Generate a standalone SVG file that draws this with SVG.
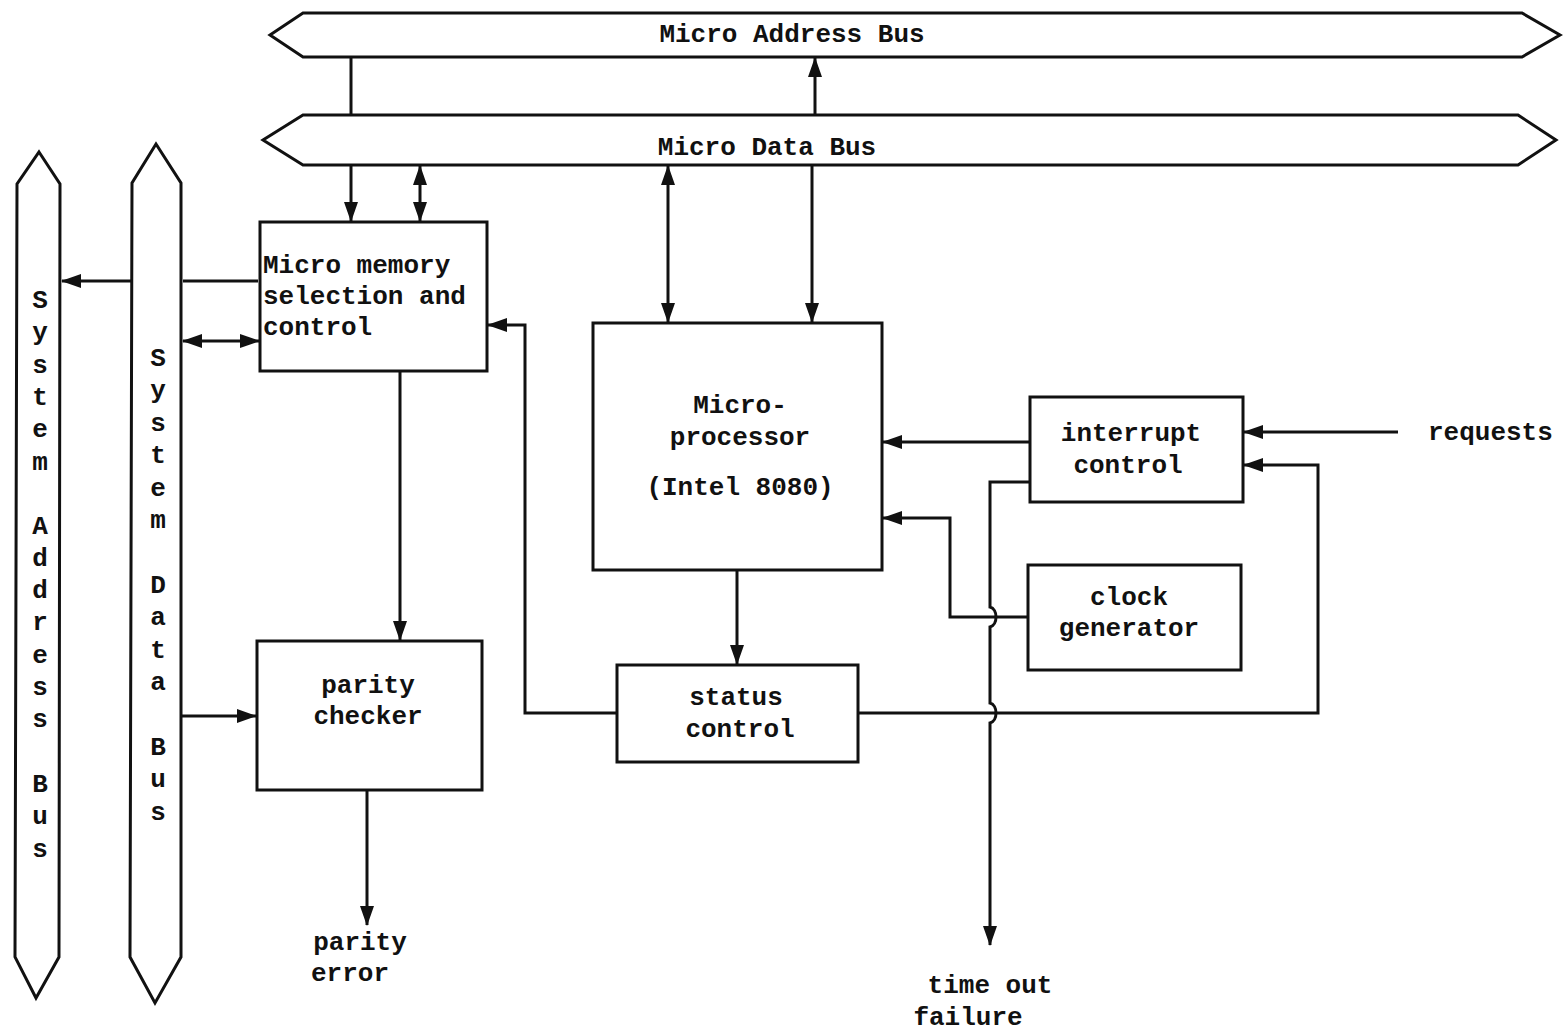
<svg xmlns="http://www.w3.org/2000/svg" width="1566" height="1031" viewBox="0 0 1566 1031">
  <defs>
    <marker id="arrow" markerUnits="userSpaceOnUse" markerWidth="20" markerHeight="14" refX="19" refY="7" orient="auto-start-reverse">
      <path d="M0,0 L20,7 L0,14 Z" fill="#111"/>
    </marker>
    <style>
      .bus { fill: #fff; stroke: #111; stroke-width: 3; stroke-linejoin: miter; }
      .box { fill: #fff; stroke: #111; stroke-width: 3; }
      .wire { fill: none; stroke: #111; stroke-width: 3; }
      .arr { marker-end: url(#arrow); }
      .arr2 { marker-start: url(#arrow); marker-end: url(#arrow); }
      text { font-family: "Liberation Mono", "DejaVu Sans Mono", monospace; font-size: 26px; font-weight: bold; fill: #111; }
      .c { text-anchor: middle; }
    </style>
  </defs>
  <rect width="1566" height="1031" fill="#fff"/>

  <!-- buses -->
  <g id="micro-address-bus">
    <path class="bus" d="M303,13 L1522,13 L1560,35 L1522,57 L303,57 L270,35 Z"/>
    <text class="c" x="792" y="42">Micro Address Bus</text>
  </g>
  <g id="micro-data-bus">
    <path class="bus" d="M303,115 L1518,115 L1556,140 L1518,165 L303,165 L263,140 Z"/>
    <text class="c" x="767" y="155">Micro Data Bus</text>
  </g>
  <g id="system-address-bus">
    <path class="bus" d="M39,152 L60,184 L59,957 L36,998 L15,957 L17,184 Z"/>
    <g class="c">
      <text class="c" x="40" y="308">S</text><text class="c" x="40" y="340">y</text><text class="c" x="40" y="373">s</text><text class="c" x="40" y="405">t</text><text class="c" x="40" y="437">e</text><text class="c" x="40" y="470">m</text>
      <text class="c" x="40" y="534">A</text><text class="c" x="40" y="566">d</text><text class="c" x="40" y="598">d</text><text class="c" x="40" y="630">r</text><text class="c" x="40" y="663">e</text><text class="c" x="40" y="695">s</text><text class="c" x="40" y="727">s</text>
      <text class="c" x="40" y="792">B</text><text class="c" x="40" y="824">u</text><text class="c" x="40" y="857">s</text>
    </g>
  </g>
  <g id="system-data-bus">
    <path class="bus" d="M156,144 L181,183 L181,957 L155,1003 L130,957 L132,183 Z"/>
    <g class="c">
      <text class="c" x="158" y="366">S</text><text class="c" x="158" y="398">y</text><text class="c" x="158" y="431">s</text><text class="c" x="158" y="463">t</text><text class="c" x="158" y="496">e</text><text class="c" x="158" y="528">m</text>
      <text class="c" x="158" y="593">D</text><text class="c" x="158" y="625">a</text><text class="c" x="158" y="658">t</text><text class="c" x="158" y="690">a</text>
      <text class="c" x="158" y="755">B</text><text class="c" x="158" y="787">u</text><text class="c" x="158" y="820">s</text>
    </g>
  </g>

  <!-- functional blocks -->
  <g id="micro-memory">
    <rect class="box" x="260" y="222" width="227" height="149"/>
    <text x="263" y="273">Micro memory</text>
    <text x="263" y="304">selection and</text>
    <text x="263" y="335">control</text>
  </g>
  <g id="parity-checker">
    <rect class="box" x="257" y="641" width="225" height="149"/>
    <text class="c" x="368" y="693">parity</text>
    <text class="c" x="368" y="724">checker</text>
  </g>
  <g id="microprocessor">
    <rect class="box" x="593" y="323" width="289" height="247"/>
    <text class="c" x="740" y="413">Micro-</text>
    <text class="c" x="740" y="445">processor</text>
    <text class="c" x="740" y="495">(Intel 8080)</text>
  </g>
  <g id="status-control">
    <rect class="box" x="617" y="665" width="241" height="97"/>
    <text class="c" x="736" y="705">status</text>
    <text class="c" x="740" y="737">control</text>
  </g>
  <g id="interrupt-control">
    <rect class="box" x="1030" y="397" width="213" height="105"/>
    <text class="c" x="1131" y="441">interrupt</text>
    <text class="c" x="1128" y="473">control</text>
  </g>
  <g id="clock-generator">
    <rect class="box" x="1028" y="565" width="213" height="105"/>
    <text class="c" x="1129" y="605">clock</text>
    <text class="c" x="1129" y="636">generator</text>
  </g>

  <!-- external signal labels -->
  <g id="requests">
    <text x="1428" y="440">requests</text>
  </g>
  <g id="parity-error">
    <text class="c" x="360" y="950">parity</text>
    <text class="c" x="350" y="981">error</text>
  </g>
  <g id="time-out-failure">
    <text class="c" x="990" y="993">time out</text>
    <text class="c" x="968" y="1025">failure</text>
  </g>

  <!-- connectors -->
  <g id="connectors">
    <!-- micro bus links -->
    <path class="wire" d="M351,57 V115"/>
    <path class="wire arr" d="M815,115 V58"/>
    <path class="wire arr" d="M351,165 V221"/>
    <path class="wire arr2" d="M420,166 V221"/>
    <path class="wire arr2" d="M668,166 V322"/>
    <path class="wire arr" d="M812,165 V322"/>
    <!-- micro memory to system buses -->
    <path class="wire" d="M258,281 H183"/>
    <path class="wire arr" d="M131,281 H62"/>
    <path class="wire arr2" d="M183,341 H259"/>
    <!-- status control back to micro memory -->
    <path class="wire arr" d="M617,713 H525 V325 H488"/>
    <!-- micro memory to parity checker -->
    <path class="wire arr" d="M400,371 V640"/>
    <path class="wire arr" d="M181,716 H256"/>
    <path class="wire arr" d="M367,790 V925"/>
    <!-- processor to status control -->
    <path class="wire arr" d="M737,570 V664"/>
    <!-- interrupt and clock into processor -->
    <path class="wire arr" d="M1030,442 H883"/>
    <path class="wire arr" d="M1028,617 H950 V518 H883"/>
    <path class="wire arr" d="M1398,432 H1244"/>
    <path class="wire arr" d="M858,713 H1318 V465 H1244"/>
    <!-- time out line, hopping over the clock and status wires -->
    <path class="wire arr" d="M1030,482 H990 V607 C998,609 998,625 990,627 V703 C998,705 998,721 990,723 V945"/>
  </g>
</svg>
